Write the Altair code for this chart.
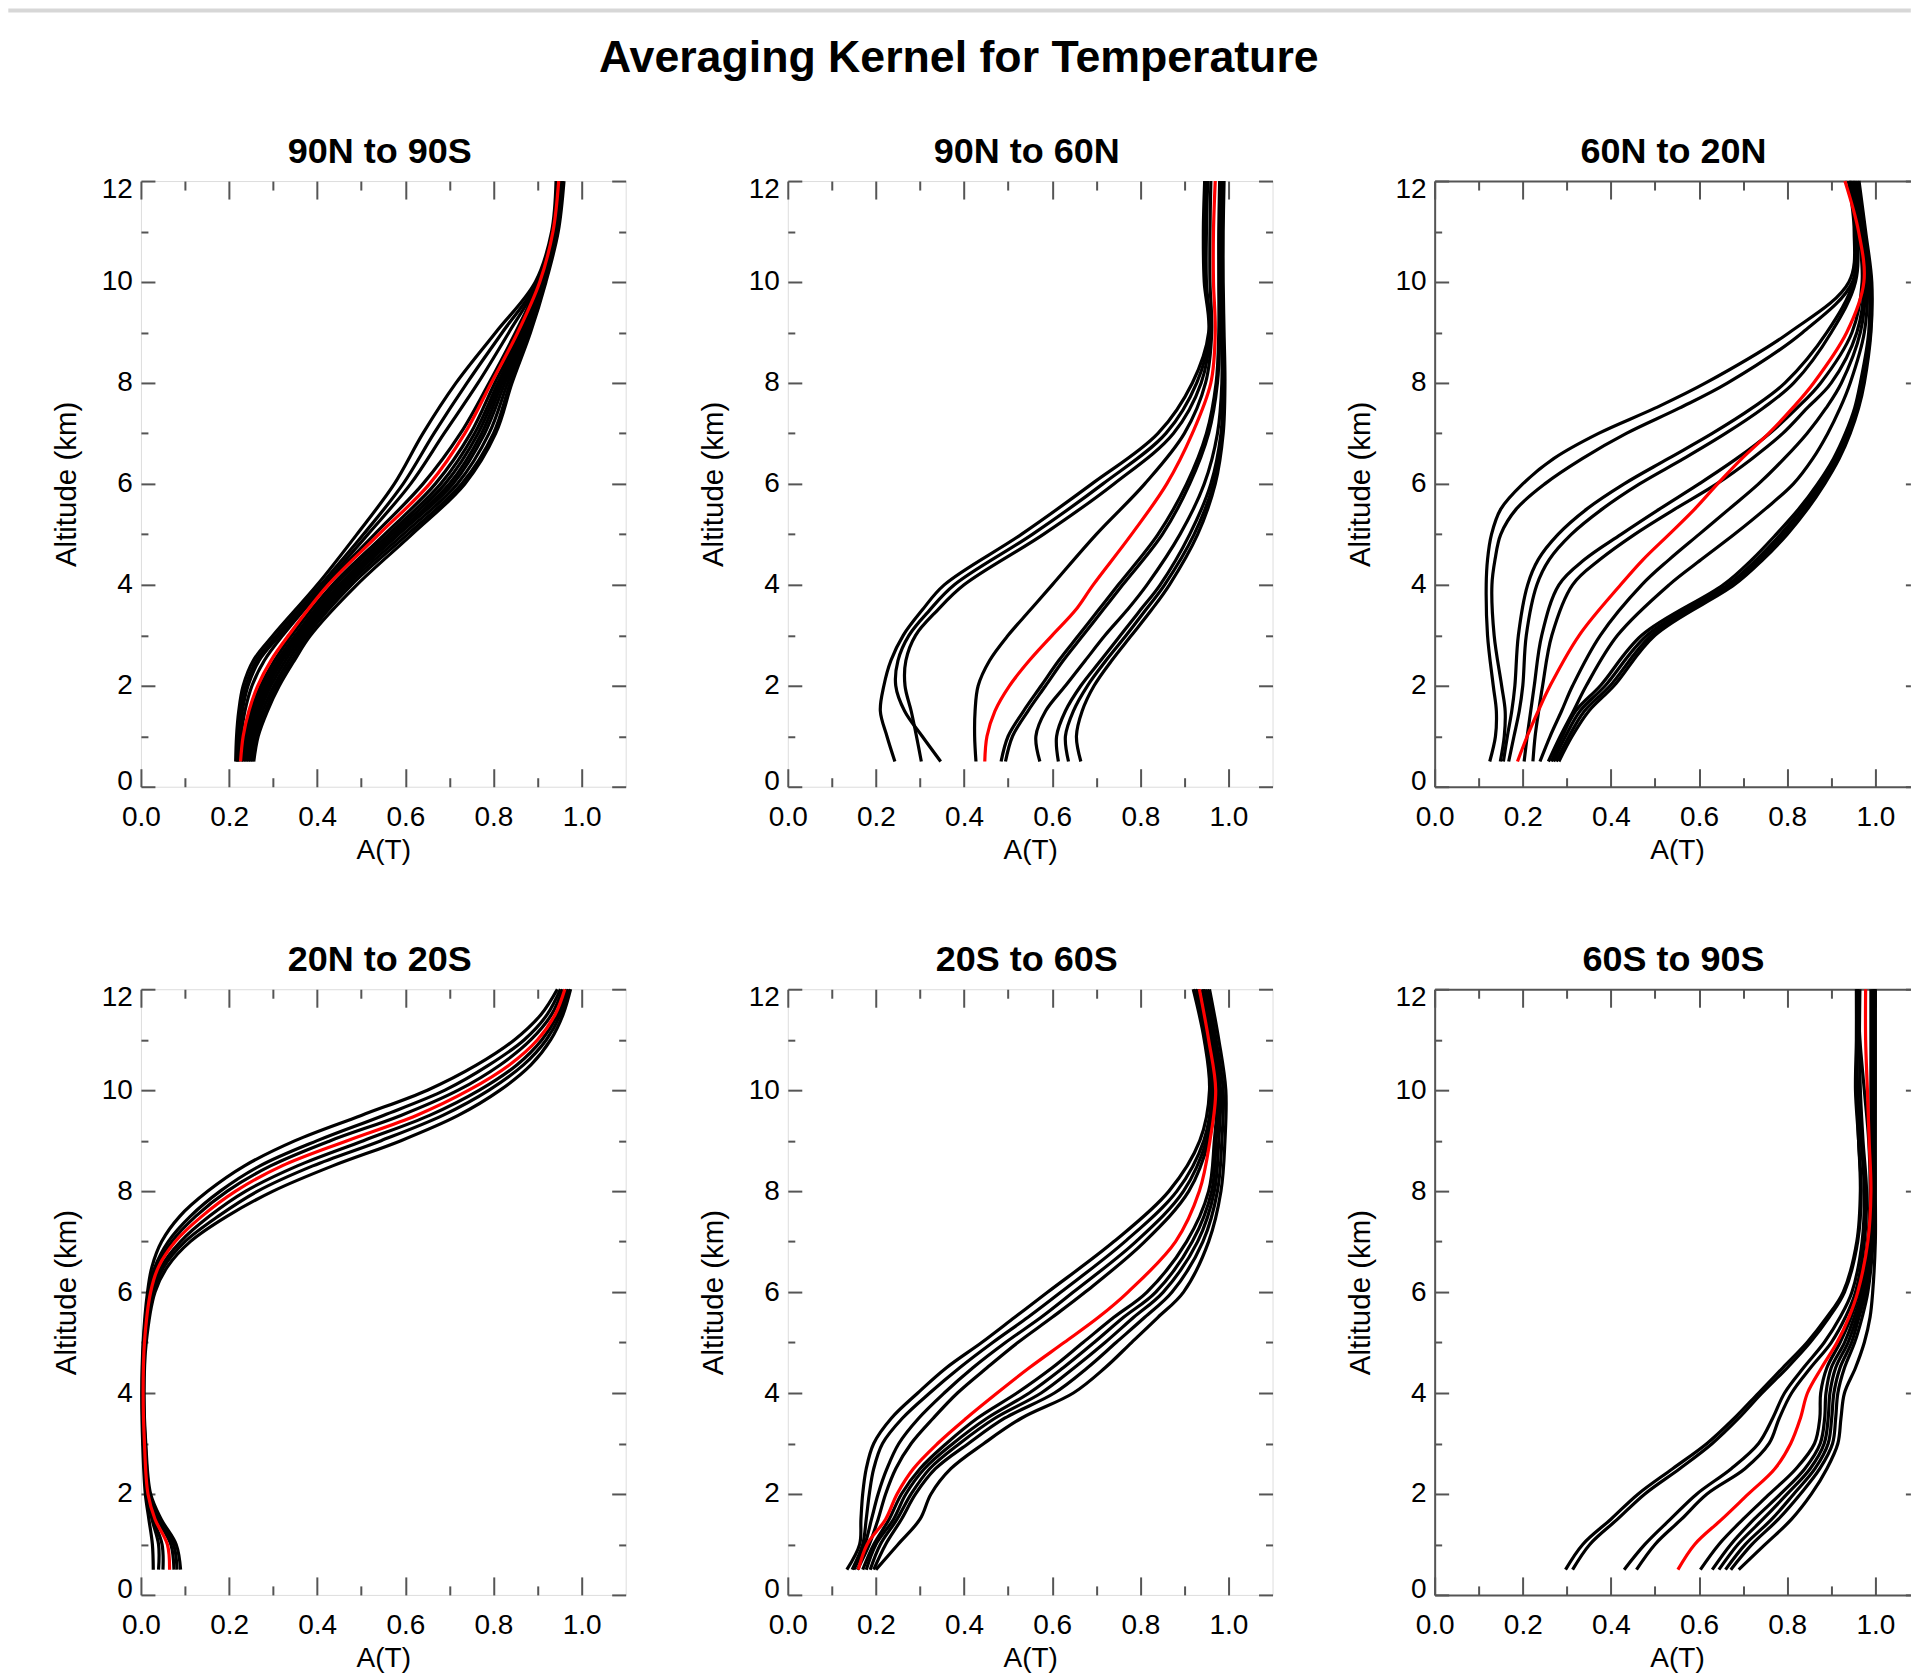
import altair as alt
import pandas as pd

FONT = "Liberation Sans"
FRAME = "#555555"

TITLE = "Averaging Kernel for Temperature"
PANEL_TITLES = ["90N to 90S", "90N to 60N", "60N to 20N",
                "20N to 20S", "20S to 60S", "60S to 90S"]
X_TITLE = "A(T)"
Y_TITLE = "Altitude (km)"
X_MAJOR = [0.0, 0.2, 0.4, 0.6, 0.8, 1.0]
X_MINOR = [0.1, 0.3, 0.5, 0.7, 0.9]
Y_MAJOR = [0, 2, 4, 6, 8, 10, 12]
Y_MINOR = [1, 3, 5, 7, 9, 11]
X_MAX = 1.1
Y_DOMAIN = [0, 12]

# ---------------- panel 1 : 90N to 90S ----------------
ALT1 = [0.5, 1, 1.5, 2, 2.5, 3, 4, 5, 6, 7, 8, 9, 10, 11, 12]
RED1 = [0.226, 0.232, 0.245, 0.265, 0.295, 0.335, 0.425, 0.540, 0.655, 0.735, 0.795, 0.855, 0.905, 0.935, 0.948]
BLACK1 = [
    [0.215, 0.217, 0.222, 0.232, 0.255, 0.300, 0.400, 0.490, 0.575, 0.640, 0.715, 0.805, 0.895, 0.932, 0.942],
    [0.218, 0.220, 0.226, 0.238, 0.262, 0.308, 0.408, 0.505, 0.595, 0.665, 0.740, 0.820, 0.900, 0.934, 0.945],
    [0.220, 0.223, 0.230, 0.243, 0.268, 0.315, 0.415, 0.515, 0.612, 0.688, 0.765, 0.835, 0.902, 0.935, 0.946],
    [0.222, 0.227, 0.236, 0.252, 0.280, 0.322, 0.420, 0.530, 0.640, 0.725, 0.790, 0.850, 0.903, 0.936, 0.947],
    [0.228, 0.236, 0.250, 0.272, 0.303, 0.342, 0.435, 0.553, 0.668, 0.748, 0.803, 0.860, 0.907, 0.937, 0.949],
    [0.232, 0.240, 0.255, 0.278, 0.310, 0.350, 0.442, 0.562, 0.680, 0.757, 0.810, 0.864, 0.909, 0.938, 0.950],
    [0.236, 0.245, 0.260, 0.284, 0.316, 0.355, 0.450, 0.570, 0.690, 0.765, 0.815, 0.867, 0.910, 0.939, 0.951],
    [0.240, 0.249, 0.265, 0.289, 0.321, 0.360, 0.457, 0.578, 0.700, 0.773, 0.820, 0.870, 0.912, 0.940, 0.952],
    [0.244, 0.253, 0.270, 0.295, 0.328, 0.366, 0.463, 0.585, 0.708, 0.780, 0.826, 0.873, 0.913, 0.941, 0.953],
    [0.248, 0.258, 0.276, 0.302, 0.335, 0.372, 0.470, 0.595, 0.718, 0.790, 0.832, 0.876, 0.915, 0.943, 0.955],
    [0.252, 0.262, 0.282, 0.308, 0.342, 0.378, 0.478, 0.605, 0.728, 0.800, 0.838, 0.880, 0.917, 0.945, 0.957],
    [0.256, 0.266, 0.287, 0.314, 0.348, 0.385, 0.490, 0.615, 0.735, 0.805, 0.842, 0.884, 0.919, 0.947, 0.960],
]

# ---------------- panel 2 : 90N to 60N ----------------
ALT2 = [0.5, 1, 1.5, 2, 2.5, 3, 3.5, 4, 5, 6, 7, 8, 9, 10, 11, 12]
RED2 = [0.447, 0.452, 0.470, 0.503, 0.548, 0.600, 0.653, 0.693, 0.780, 0.860, 0.918, 0.960, 0.970, 0.966, 0.966, 0.970]
BLACK2 = [
    [0.243, 0.225, 0.210, 0.218, 0.234, 0.262, 0.305, 0.355, 0.530, 0.690, 0.840, 0.918, 0.955, 0.945, 0.943, 0.946],
    [0.347, 0.305, 0.265, 0.245, 0.250, 0.275, 0.322, 0.378, 0.555, 0.715, 0.858, 0.928, 0.957, 0.947, 0.946, 0.948],
    [0.303, 0.292, 0.280, 0.266, 0.268, 0.290, 0.340, 0.400, 0.580, 0.740, 0.875, 0.938, 0.958, 0.950, 0.950, 0.953],
    [0.427, 0.424, 0.425, 0.432, 0.458, 0.500, 0.550, 0.600, 0.700, 0.810, 0.900, 0.948, 0.962, 0.958, 0.958, 0.960],
    [0.484, 0.500, 0.535, 0.575, 0.615, 0.660, 0.705, 0.750, 0.840, 0.905, 0.950, 0.972, 0.978, 0.978, 0.978, 0.980],
    [0.494, 0.510, 0.545, 0.585, 0.625, 0.670, 0.715, 0.760, 0.850, 0.912, 0.955, 0.975, 0.980, 0.980, 0.980, 0.982],
    [0.572, 0.563, 0.585, 0.630, 0.675, 0.720, 0.770, 0.815, 0.890, 0.945, 0.975, 0.985, 0.984, 0.982, 0.982, 0.984],
    [0.614, 0.610, 0.630, 0.665, 0.710, 0.755, 0.800, 0.845, 0.912, 0.960, 0.983, 0.988, 0.986, 0.984, 0.984, 0.986],
    [0.637, 0.630, 0.648, 0.680, 0.722, 0.768, 0.812, 0.855, 0.922, 0.966, 0.986, 0.990, 0.988, 0.986, 0.986, 0.988],
    [0.665, 0.655, 0.668, 0.695, 0.735, 0.780, 0.825, 0.866, 0.930, 0.970, 0.988, 0.992, 0.990, 0.988, 0.988, 0.990],
]

# ---------------- panel 3 : 60N to 20N ----------------
ALT3 = [0.5, 1, 1.5, 2, 3, 4, 4.5, 5, 5.5, 6, 6.5, 7, 7.5, 8, 9, 10, 11, 12]
RED3 = [0.188, 0.210, 0.235, 0.262, 0.328, 0.422, 0.473, 0.532, 0.590, 0.642, 0.697, 0.758, 0.812, 0.860, 0.935, 0.974, 0.962, 0.931]
BLACK3 = [
    [0.125, 0.138, 0.140, 0.133, 0.120, 0.117, 0.120, 0.129, 0.150, 0.200, 0.270, 0.372, 0.500, 0.615, 0.805, 0.940, 0.952, 0.939],
    [0.149, 0.158, 0.160, 0.152, 0.135, 0.130, 0.137, 0.150, 0.185, 0.250, 0.335, 0.435, 0.555, 0.665, 0.835, 0.948, 0.955, 0.942],
    [0.156, 0.165, 0.175, 0.182, 0.190, 0.211, 0.235, 0.280, 0.345, 0.430, 0.530, 0.630, 0.720, 0.795, 0.890, 0.950, 0.955, 0.940],
    [0.168, 0.180, 0.192, 0.200, 0.208, 0.232, 0.260, 0.310, 0.380, 0.465, 0.565, 0.660, 0.745, 0.815, 0.900, 0.955, 0.958, 0.942],
    [0.203, 0.210, 0.218, 0.226, 0.243, 0.282, 0.340, 0.423, 0.510, 0.600, 0.685, 0.760, 0.822, 0.876, 0.947, 0.970, 0.962, 0.945],
    [0.223, 0.228, 0.236, 0.245, 0.266, 0.313, 0.375, 0.454, 0.545, 0.640, 0.720, 0.790, 0.845, 0.900, 0.958, 0.975, 0.965, 0.948],
    [0.239, 0.262, 0.288, 0.313, 0.376, 0.470, 0.532, 0.600, 0.668, 0.735, 0.793, 0.845, 0.888, 0.923, 0.966, 0.978, 0.968, 0.950],
    [0.258, 0.285, 0.315, 0.344, 0.415, 0.532, 0.605, 0.680, 0.750, 0.814, 0.858, 0.892, 0.920, 0.943, 0.975, 0.982, 0.970, 0.952],
    [0.265, 0.290, 0.320, 0.376, 0.470, 0.655, 0.720, 0.775, 0.826, 0.869, 0.905, 0.932, 0.953, 0.966, 0.985, 0.986, 0.972, 0.955],
    [0.270, 0.297, 0.330, 0.387, 0.482, 0.665, 0.730, 0.785, 0.833, 0.875, 0.910, 0.936, 0.956, 0.969, 0.987, 0.988, 0.974, 0.958],
    [0.276, 0.305, 0.340, 0.398, 0.492, 0.672, 0.738, 0.792, 0.840, 0.880, 0.914, 0.940, 0.959, 0.972, 0.989, 0.990, 0.976, 0.960],
    [0.282, 0.312, 0.350, 0.407, 0.500, 0.680, 0.745, 0.800, 0.846, 0.885, 0.918, 0.943, 0.962, 0.975, 0.990, 0.992, 0.978, 0.963],
]

# ---------------- panel 4 : 20N to 20S ----------------
ALT4 = [0.5, 1, 1.5, 2, 3, 4, 5, 6, 6.5, 7, 7.5, 8, 8.5, 9, 9.5, 10, 10.5, 11, 11.5, 12]
RED4 = [0.065, 0.060, 0.032, 0.016, 0.008, 0.005, 0.008, 0.022, 0.040, 0.078, 0.138, 0.215, 0.320, 0.468, 0.625, 0.744, 0.836, 0.900, 0.940, 0.962]
BLACK4 = [
    [0.028, 0.026, 0.018, 0.010, 0.004, 0.002, 0.005, 0.015, 0.025, 0.047, 0.088, 0.152, 0.235, 0.350, 0.500, 0.650, 0.762, 0.848, 0.908, 0.945],
    [0.040, 0.040, 0.025, 0.013, 0.006, 0.003, 0.006, 0.018, 0.032, 0.062, 0.112, 0.180, 0.270, 0.400, 0.550, 0.690, 0.790, 0.870, 0.922, 0.952],
    [0.050, 0.048, 0.028, 0.014, 0.007, 0.004, 0.007, 0.020, 0.036, 0.070, 0.124, 0.196, 0.294, 0.430, 0.590, 0.720, 0.815, 0.885, 0.932, 0.957],
    [0.075, 0.068, 0.038, 0.018, 0.009, 0.006, 0.009, 0.025, 0.046, 0.090, 0.155, 0.238, 0.355, 0.505, 0.655, 0.768, 0.853, 0.910, 0.946, 0.966],
    [0.082, 0.074, 0.042, 0.020, 0.010, 0.006, 0.010, 0.028, 0.052, 0.100, 0.175, 0.265, 0.390, 0.545, 0.685, 0.790, 0.868, 0.920, 0.952, 0.970],
    [0.090, 0.080, 0.046, 0.022, 0.011, 0.007, 0.012, 0.032, 0.060, 0.112, 0.195, 0.300, 0.435, 0.590, 0.720, 0.815, 0.885, 0.930, 0.958, 0.975],
]

# ---------------- panel 5 : 20S to 60S ----------------
ALT5 = [0.5, 1, 1.5, 2, 2.5, 3, 3.5, 4, 4.5, 5, 5.5, 6, 7, 8, 9, 10, 11, 12]
RED5 = [0.160, 0.180, 0.222, 0.248, 0.285, 0.340, 0.405, 0.475, 0.548, 0.627, 0.705, 0.772, 0.880, 0.934, 0.958, 0.971, 0.955, 0.934]
BLACK5 = [
    [0.134, 0.163, 0.166, 0.170, 0.178, 0.195, 0.235, 0.295, 0.360, 0.440, 0.515, 0.590, 0.740, 0.865, 0.935, 0.957, 0.945, 0.920],
    [0.146, 0.170, 0.178, 0.185, 0.195, 0.215, 0.260, 0.322, 0.390, 0.465, 0.545, 0.620, 0.765, 0.883, 0.944, 0.962, 0.950, 0.925],
    [0.150, 0.175, 0.190, 0.205, 0.225, 0.252, 0.297, 0.355, 0.420, 0.494, 0.575, 0.648, 0.790, 0.898, 0.950, 0.967, 0.953, 0.930],
    [0.158, 0.185, 0.205, 0.222, 0.245, 0.280, 0.330, 0.385, 0.452, 0.522, 0.600, 0.675, 0.810, 0.910, 0.955, 0.970, 0.955, 0.932],
    [0.170, 0.195, 0.230, 0.258, 0.300, 0.360, 0.430, 0.520, 0.600, 0.670, 0.740, 0.815, 0.905, 0.955, 0.968, 0.975, 0.960, 0.940],
    [0.178, 0.200, 0.240, 0.268, 0.310, 0.375, 0.452, 0.548, 0.625, 0.695, 0.762, 0.835, 0.918, 0.962, 0.972, 0.978, 0.963, 0.943],
    [0.187, 0.210, 0.248, 0.280, 0.322, 0.390, 0.470, 0.575, 0.650, 0.720, 0.785, 0.852, 0.930, 0.968, 0.978, 0.982, 0.967, 0.947],
    [0.195, 0.222, 0.258, 0.290, 0.335, 0.410, 0.492, 0.605, 0.680, 0.745, 0.810, 0.872, 0.942, 0.975, 0.985, 0.988, 0.972, 0.952],
    [0.200, 0.250, 0.300, 0.325, 0.370, 0.445, 0.530, 0.648, 0.720, 0.780, 0.840, 0.898, 0.955, 0.983, 0.992, 0.994, 0.978, 0.957],
]

# ---------------- panel 6 : 60S to 90S ----------------
ALT6 = [0.5, 1, 1.5, 2, 2.5, 3, 3.5, 4, 4.5, 5, 5.5, 6, 7, 8, 9, 10, 11, 12]
RED6 = [0.552, 0.590, 0.652, 0.712, 0.772, 0.808, 0.830, 0.846, 0.878, 0.913, 0.940, 0.960, 0.983, 0.990, 0.986, 0.982, 0.978, 0.978]
BLACK6 = [
    [0.297, 0.336, 0.400, 0.462, 0.540, 0.618, 0.680, 0.735, 0.790, 0.845, 0.890, 0.927, 0.958, 0.966, 0.962, 0.955, 0.957, 0.957],
    [0.313, 0.352, 0.415, 0.477, 0.556, 0.630, 0.690, 0.743, 0.800, 0.852, 0.895, 0.930, 0.960, 0.968, 0.962, 0.958, 0.958, 0.960],
    [0.430, 0.477, 0.535, 0.595, 0.673, 0.735, 0.767, 0.794, 0.837, 0.884, 0.920, 0.947, 0.970, 0.975, 0.968, 0.960, 0.958, 0.958],
    [0.458, 0.500, 0.560, 0.618, 0.704, 0.759, 0.782, 0.810, 0.853, 0.900, 0.932, 0.955, 0.975, 0.980, 0.972, 0.966, 0.964, 0.965],
    [0.603, 0.645, 0.700, 0.760, 0.820, 0.862, 0.874, 0.876, 0.890, 0.920, 0.945, 0.962, 0.982, 0.988, 0.985, 0.975, 0.965, 0.960],
    [0.630, 0.672, 0.725, 0.785, 0.840, 0.875, 0.885, 0.888, 0.900, 0.930, 0.952, 0.968, 0.986, 0.990, 0.990, 0.990, 0.990, 0.990],
    [0.645, 0.688, 0.745, 0.800, 0.852, 0.884, 0.893, 0.897, 0.910, 0.938, 0.958, 0.973, 0.990, 0.994, 0.994, 0.995, 0.995, 0.995],
    [0.660, 0.705, 0.765, 0.815, 0.863, 0.893, 0.901, 0.906, 0.920, 0.946, 0.963, 0.978, 0.993, 0.997, 0.996, 0.997, 0.997, 0.997],
    [0.672, 0.720, 0.780, 0.830, 0.874, 0.903, 0.910, 0.915, 0.930, 0.953, 0.970, 0.983, 0.995, 0.999, 0.998, 0.999, 0.999, 0.999],
    [0.690, 0.750, 0.810, 0.855, 0.890, 0.915, 0.922, 0.930, 0.955, 0.975, 0.988, 0.994, 1.000, 1.000, 1.000, 1.000, 1.000, 1.000],
]

PANELS = [
    (ALT1, RED1, BLACK1), (ALT2, RED2, BLACK2), (ALT3, RED3, BLACK3),
    (ALT4, RED4, BLACK4), (ALT5, RED5, BLACK5), (ALT6, RED6, BLACK6),
]

# ---------------- layout (pixels) ----------------
PW, PH = 485, 606
COL_GAP = 162.2
ROW_GAP = 202.6
LEFT_SHIFT = 132.7                       # page x of first plot minus page margin
PAGE_W = 1904                            # usable width inside the page margins
PW_LAST = 476                            # third column is cut at the window edge
HEADER_H = 4
HEADER_GAP = 172.7 - HEADER_H
LINE_W = 3.2


def common():
    return dict(grid=False, domain=False, tickColor=FRAME, tickWidth=2,
                labelFlush=False, labelOverlap=False)


def frame_axis(orient):
    return alt.Axis(orient=orient, domain=True, domainColor=FRAME, domainWidth=2,
                    ticks=False, labels=False, grid=False, title=None)


def make_panel(title, alts, red, blacks, last_col):
    rows = []
    for i, curve in enumerate(blacks):
        for a, v in zip(alts, curve):
            rows.append({"curve": i, "km": a, "a": v})
    bdf = pd.DataFrame(rows)
    rdf = pd.DataFrame({"km": alts, "a": red})

    width = PW_LAST if last_col else PW
    xs = alt.Scale(domain=[0, X_MAX * width / PW], nice=False, zero=False)
    ys = alt.Scale(domain=Y_DOMAIN, nice=False, zero=False)

    ax_b = alt.Axis(orient="bottom", values=X_MAJOR, format=".1f", tickSize=18, offset=-18,
                    labelFont=FONT, labelFontSize=28, labelColor="black", labelPadding=17,
                    title=X_TITLE, titleFont=FONT, titleFontSize=28, titleFontWeight="normal",
                    titleColor="black", titlePadding=4.5, titleX=PW / 2, **common())
    ax_l = alt.Axis(orient="left", values=Y_MAJOR, format="d", tickSize=14, offset=-14,
                    labelFont=FONT, labelFontSize=28, labelColor="black", labelPadding=8.5,
                    labelOffset={"condition": [{"test": "datum.value == 12", "value": 8},
                                               {"test": "datum.value == 0", "value": -5}],
                                 "value": 0},
                    title=Y_TITLE, titleFont=FONT, titleFontSize=29.5, titleFontWeight="normal",
                    titleColor="black", titlePadding=20, **common())
    ax_b2 = alt.Axis(orient="bottom", values=X_MINOR, tickSize=9, offset=-9, labels=False,
                     title=None, **common())
    ax_l2 = alt.Axis(orient="left", values=Y_MINOR, tickSize=7, offset=-7, labels=False,
                     title=None, **common())
    ax_t = alt.Axis(orient="top", values=X_MAJOR, tickSize=18, offset=-18, labels=False,
                    title=None, **common())
    ax_t2 = alt.Axis(orient="top", values=X_MINOR, tickSize=9, offset=-9, labels=False,
                     title=None, **common())
    if last_col:
        # only the part of the inward right ticks that lies inside the window
        cut = PW - PW_LAST
        ax_r = alt.Axis(orient="right", values=Y_MAJOR, tickSize=14 - cut, offset=-(14 - cut),
                        labels=False, title=None, **common())
        ax_r2 = None
    else:
        ax_r = alt.Axis(orient="right", values=Y_MAJOR, tickSize=14, offset=-14, labels=False,
                        title=None, **common())
        ax_r2 = alt.Axis(orient="right", values=Y_MINOR, tickSize=7, offset=-7, labels=False,
                         title=None, **common())

    def xy(xaxis, yaxis):
        return dict(x=alt.X("a:Q", scale=xs, axis=xaxis),
                    y=alt.Y("km:Q", scale=ys, axis=yaxis),
                    order="km:Q")

    black = alt.Chart(bdf).mark_line(color="black", strokeWidth=LINE_W,
                                     interpolate="catmull-rom").encode(
        detail="curve:N", **xy(ax_b, ax_l))
    redl = alt.Chart(rdf).mark_line(color="#ff0000", strokeWidth=LINE_W,
                                    interpolate="catmull-rom").encode(**xy(ax_b2, ax_l2))
    inv1 = alt.Chart(rdf).mark_line(opacity=0).encode(**xy(ax_t, ax_r))
    inv2 = alt.Chart(rdf).mark_line(opacity=0).encode(**xy(ax_t2, ax_r2))
    layers = [black, redl, inv1, inv2]

    props = dict(width=width, height=PH,
                 title=alt.TitleParams(text=title, font=FONT, fontSize=36, fontWeight="bold",
                                       color="black", offset=4,
                                       dx=-3.5 + (PW - width) / 2, anchor="middle"))
    if last_col:
        # the right edge of the box lies outside the window: draw the other three sides
        inv3 = alt.Chart(rdf).mark_line(opacity=0).encode(**xy(frame_axis("bottom"), frame_axis("left")))
        inv4 = alt.Chart(rdf).mark_line(opacity=0).encode(**xy(frame_axis("top"), None))
        layers += [inv3, inv4]
        props["view"] = alt.ViewBackground(strokeOpacity=0)

    return alt.layer(*layers).resolve_axis(x="independent", y="independent").properties(**props)


panels = [make_panel(t, *p, last_col=(i % 3 == 2))
          for i, (t, p) in enumerate(zip(PANEL_TITLES, PANELS))]
grid = alt.concat(*panels, columns=3, spacing={"row": ROW_GAP, "column": COL_GAP}, bounds="flush")

hdf = pd.DataFrame({"t": [TITLE]})
bar = alt.Chart(hdf).mark_rect(color="#d7d7d7").encode(
    x=alt.value(-LEFT_SHIFT), x2=alt.value(PAGE_W - 0.5 - LEFT_SHIFT),
    y=alt.value(0), y2=alt.value(HEADER_H),
)
head_text = alt.Chart(hdf).mark_text(font=FONT, fontSize=44.7, fontWeight="bold", color="black",
                                     align="center", baseline="alphabetic").encode(
    text="t:N", x=alt.value(959 - 8 - LEFT_SHIFT), y=alt.value(71.7 - 8),
)
header = alt.layer(bar, head_text).properties(
    width=2 * PW + PW_LAST + 2 * COL_GAP, height=HEADER_H,
    view=alt.ViewBackground(strokeOpacity=0)
)

chart = alt.vconcat(header, grid, spacing=HEADER_GAP, bounds="flush").properties(
    padding=0, background="white"
).configure_view(stroke=FRAME, strokeWidth=2).configure(font=FONT)

chart.save("out.html", embed_options={"renderer": "svg", "actions": False})
